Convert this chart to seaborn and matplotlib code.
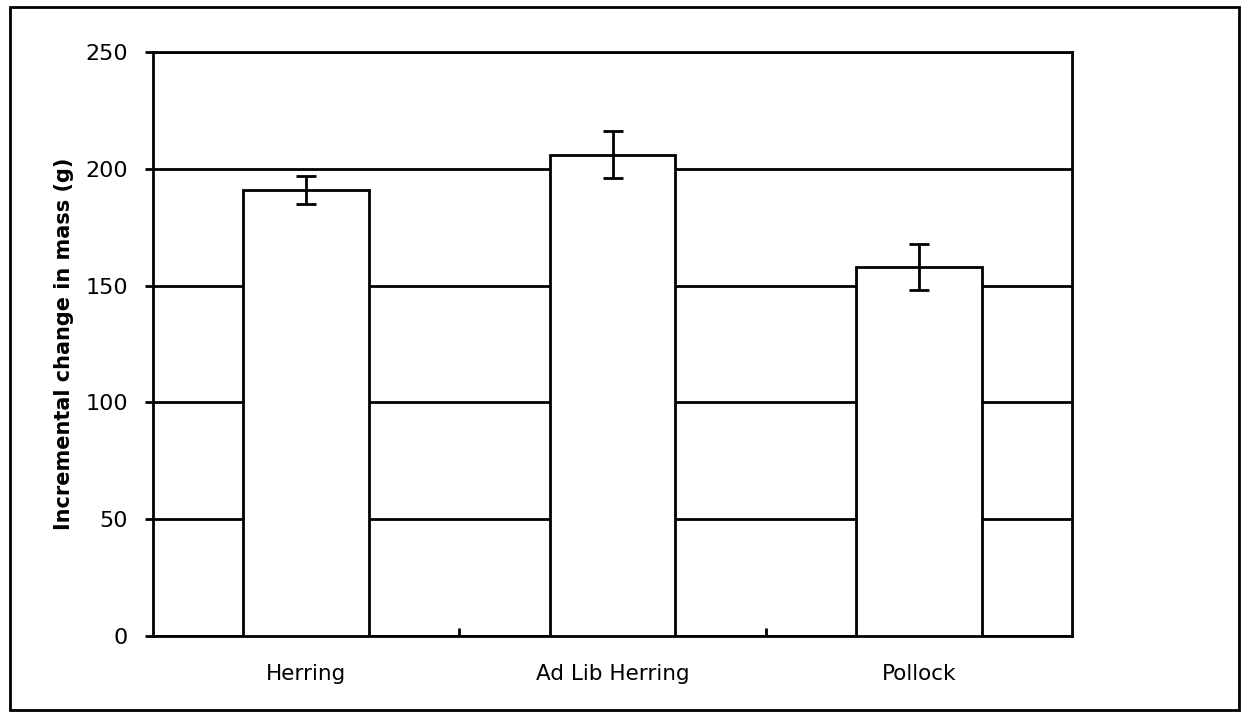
import matplotlib
matplotlib.use("Agg")
import matplotlib.pyplot as plt
import seaborn as sns
import pandas as pd
from matplotlib.patches import Rectangle

categories = ["Herring", "Ad Lib Herring", "Pollock"]
means = [191, 206, 158]
errors = [6, 10, 10]
yticks = [0, 50, 100, 150, 200, 250]

sns.set_theme(style="white")
plt.rcParams['font.family'] = ['DejaVu Sans']
plt.rcParams['text.color'] = 'black'
plt.rcParams['axes.labelcolor'] = 'black'
plt.rcParams['xtick.color'] = 'black'
plt.rcParams['ytick.color'] = 'black'

df = pd.DataFrame({"cat": categories, "val": means})

fig = plt.figure(figsize=(12.47, 7.13), dpi=100)
ax = fig.add_axes([153/1247, 1-636/713, (1072-153)/1247, (636-52)/713])

sns.barplot(data=df, x="cat", y="val", ax=ax, color="white", edgecolor="black",
            linewidth=2, width=0.41, errorbar=None, zorder=3)
ax.errorbar(range(len(categories)), means, yerr=errors, fmt="none", ecolor="black",
            elinewidth=2, capsize=7, capthick=2, zorder=4)

ax.set_ylim(0, 250)
ax.set_xlim(-0.5, len(categories) - 0.5)
ax.set_yticks(yticks)
ax.set_yticklabels([str(v) for v in yticks], fontsize=16)
ax.set_xticks(range(len(categories)))
ax.set_xticklabels(categories, fontsize=15.5)
ax.set_xticks([0.5, 1.5], minor=True)
ax.tick_params(axis="x", which="major", bottom=True, length=0, pad=20, labelcolor="black")
ax.tick_params(axis="x", which="minor", bottom=True, direction="in", length=6, width=2, color="black")
ax.tick_params(axis="y", left=True, direction="out", length=6, width=2, color="black", pad=12,
               labelcolor="black")
ax.set_xlabel("")
ax.set_ylabel("Incremental change in mass (g)", fontsize=15, fontweight="bold", labelpad=8,
              color="black")

ax.yaxis.grid(True, color="black", linewidth=2)
ax.xaxis.grid(False)
ax.set_axisbelow(True)
for s in ax.spines.values():
    s.set_color("black")
    s.set_linewidth(2)
    s.set_visible(True)

fig.patches.append(Rectangle((10/1247, 1-710/713), (1239-10)/1247, (710-7)/713,
                             transform=fig.transFigure, fill=False, edgecolor="black",
                             linewidth=2))

fig.savefig("out.png", dpi=100, facecolor="white")
